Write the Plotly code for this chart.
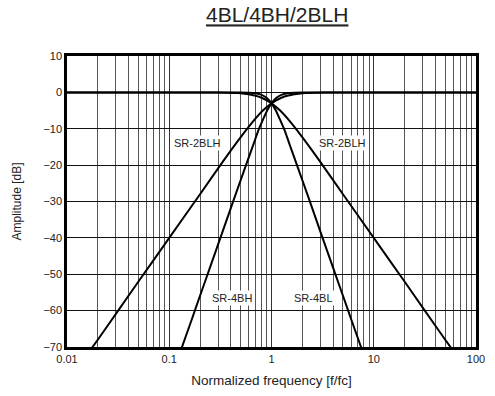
import math
import plotly.graph_objects as go

# Normalized frequency points (f/fc) and attenuation readings in dB
freq_lp4 = [0.01, 0.1, 0.5, 0.6, 0.7, 0.8, 0.9, 1.0, 1.1, 1.2, 1.35, 1.5, 1.75, 2.0, 2.5, 3.0, 4.0, 5.0, 6.0, 7.0, 8.0]
amp_lp4 = [0.0, 0.0, -0.02, -0.07, -0.24, -0.67, -1.56, -3.01, -4.9, -7.24, -10.6, -14.25, -19.5, -24.1, -31.8, -38.2, -48.2, -55.9, -62.3, -67.6, -72.2]

freq_hp4 = [100, 10, 2.0, 1.667, 1.429, 1.25, 1.111, 1.0, 0.909, 0.833, 0.741, 0.667, 0.571, 0.5, 0.4, 0.333, 0.25, 0.2, 0.1667, 0.1429, 0.125]
amp_hp4 = [0.0, 0.0, -0.02, -0.07, -0.24, -0.67, -1.56, -3.01, -4.9, -7.24, -10.6, -14.25, -19.5, -24.1, -31.8, -38.2, -48.2, -55.9, -62.3, -67.6, -72.2]

freq_lp2 = [0.01, 0.1, 0.3, 0.5, 0.7, 0.8, 0.9, 1.0, 1.2, 1.5, 2.0, 3.0, 5.0, 10, 20, 30, 50, 60]
amp_lp2 = [0.0, 0.0, -0.04, -0.26, -0.94, -1.49, -2.19, -3.01, -4.87, -7.83, -12.3, -19.1, -28.0, -40.0, -52.0, -59.1, -68.0, -71.1]

freq_hp2 = [100, 10, 3.333, 2.0, 1.429, 1.25, 1.111, 1.0, 0.833, 0.667, 0.5, 0.333, 0.2, 0.1, 0.05, 0.0333, 0.02, 0.01667]
amp_hp2 = [0.0, 0.0, -0.04, -0.26, -0.94, -1.49, -2.19, -3.01, -4.87, -7.83, -12.3, -19.1, -28.0, -40.0, -52.0, -59.1, -68.0, -71.1]

# Axis ticks
x_major = [0.01, 0.1, 1, 10, 100]
x_major_text = ["0.01", "0.1", "1", "10", "100"]
x_minor = [m * d for d in (0.01, 0.1, 1, 10) for m in range(2, 10)]
y_ticks = [10, 0, -10, -20, -30, -40, -50, -60, -70]

# Curve labels: (text, f/fc, dB)
labels = [
    ("SR-2BLH", 0.19, -14.0),
    ("SR-2BLH", 4.9, -14.0),
    ("SR-4BH", 0.41, -56.6),
    ("SR-4BL", 2.55, -56.6),
]

FONT = "Liberation Sans, Arial, sans-serif"

fig = go.Figure()
for fx, fy in [(freq_lp4, amp_lp4), (freq_hp4, amp_hp4), (freq_lp2, amp_lp2), (freq_hp2, amp_hp2)]:
    fig.add_trace(go.Scatter(
        x=fx, y=fy, mode="lines",
        line=dict(color="black", width=2, shape="spline", smoothing=0.6),
        showlegend=False, hoverinfo="skip",
    ))

# Annotations on a log axis take the exponent as their x position
for text, lx, ly in labels:
    fig.add_annotation(
        x=math.log10(lx), y=ly, xref="x", yref="y", text=text, showarrow=False,
        font=dict(family=FONT, size=11, color="#222"),
        bgcolor="white", borderpad=1,
        xanchor="center", yanchor="middle",
    )

fig.update_layout(
    width=495, height=396,
    margin=dict(l=67, r=10, t=56, b=49),
    paper_bgcolor="white", plot_bgcolor="white",
    font=dict(family=FONT, size=11, color="#222"),
    title=dict(
        text="<u>4BL/4BH/2BLH</u>",
        x=0.56, xanchor="center", y=0.962, yanchor="middle",
        font=dict(family=FONT, size=21, color="#222"),
    ),
)

fig.update_xaxes(
    type="log", range=[-2, 2],
    tickmode="array", tickvals=x_major, ticktext=x_major_text,
    showgrid=True, gridcolor="#333", gridwidth=1,
    minor=dict(tickmode="array", tickvals=x_minor, showgrid=True, gridcolor="#555", gridwidth=1, ticks=""),
    showline=True, linecolor="black", linewidth=2.5, mirror=True,
    ticks="", ticklen=0,
    tickfont=dict(family=FONT, size=11, color="#222"),
    title=dict(text="Normalized frequency [f/fc]", font=dict(family=FONT, size=13.5, color="#222"), standoff=12),
    zeroline=False,
)
fig.update_yaxes(
    range=[-70, 10],
    tickmode="array", tickvals=y_ticks,
    showgrid=True, gridcolor="#111", gridwidth=1,
    showline=True, linecolor="black", linewidth=2.5, mirror=True,
    ticks="", ticklen=0,
    tickfont=dict(family=FONT, size=11, color="#222"),
    title=dict(text="Amplitude [dB]", font=dict(family=FONT, size=12, color="#222"), standoff=20),
    zeroline=False,
)

fig.write_html("out.html")
